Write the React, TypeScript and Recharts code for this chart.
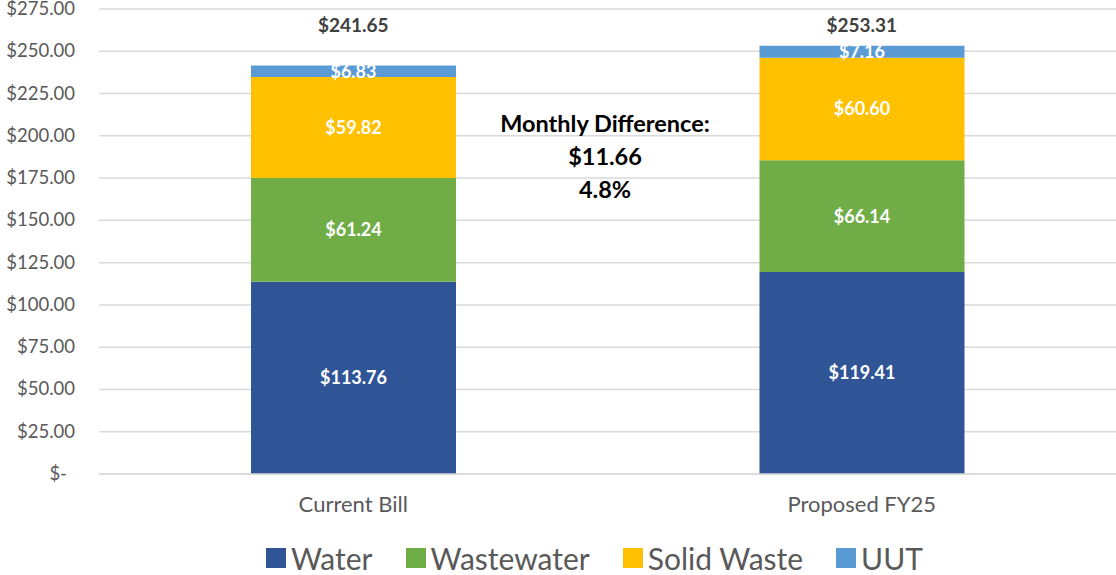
import {
  BarChart, Bar, XAxis, YAxis, CartesianGrid, Legend, LabelList, ReferenceDot,
} from "recharts";

const categories = ["Current Bill", "Proposed FY25"];
const water = [113.76, 119.41];
const wastewater = [61.24, 66.14];
const solidWaste = [59.82, 60.6];
const uut = [6.83, 7.16];
const totals = [241.65, 253.31];
const yTicks = [0, 25, 50, 75, 100, 125, 150, 175, 200, 225, 250, 275];
const totalLabelY = 265.5;

const series = [
  { key: "water", name: "Water", color: "#2F5597" },
  { key: "wastewater", name: "Wastewater", color: "#70AD47" },
  { key: "solidWaste", name: "Solid Waste", color: "#FFC000" },
  { key: "uut", name: "UUT", color: "#5B9BD5" },
];

const data = categories.map((name, i) => ({
  name,
  water: water[i],
  wastewater: wastewater[i],
  solidWaste: solidWaste[i],
  uut: uut[i],
}));

const FONT = "Lato, 'Open Sans', sans-serif";
const money = (v: number) => `$${Number(v).toFixed(2)}`;

function YTick({ x, y, payload }: any) {
  const v = payload.value;
  return (
    <text x={v === 0 ? x - 24 : x - 16} y={y} dy={6} textAnchor="end" fill="#595959" fontSize={18.5} fontFamily={FONT}>
      {v === 0 ? "$-" : money(v)}
    </text>
  );
}

function XTick({ x, y, payload }: any) {
  return (
    <text x={x} y={y} dy={30} textAnchor="middle" fill="#595959" fontSize={22} fontFamily={FONT}>
      {payload.value}
    </text>
  );
}

function LegendContent() {
  return (
    <div style={{ height: 51, display: "flex", alignItems: "center", gap: 33, fontFamily: FONT, fontSize: 30, color: "#595959", paddingTop: 16, paddingLeft: 266, boxSizing: "border-box" }}>
      {series.map((s) => (
        <div key={s.key} style={{ display: "flex", alignItems: "center", gap: 5 }}>
          <span style={{ width: 20, height: 20, background: s.color, display: "inline-block" }} />
          <span>{s.name}</span>
        </div>
      ))}
    </div>
  );
}

export default function App() {
  return (
    <div style={{ position: "absolute", left: 0, top: 0, width: 1116, height: 575, background: "#fff" }}>
      <BarChart width={1116} height={575} data={data} margin={{ top: 9, right: 0, left: 0, bottom: 0 }} barSize={205}>
        <CartesianGrid vertical={false} stroke="#D9D9D9" strokeWidth={1.5} />
        <XAxis dataKey="name" tickLine={false} axisLine={{ stroke: "#D9D9D9", strokeWidth: 1.5 }} height={50} tick={<XTick />} interval={0} />
        <YAxis width={99} domain={[0, 275]} ticks={yTicks} tickLine={false} axisLine={false} tick={<YTick />} interval={0} />
        <Legend verticalAlign="bottom" content={<LegendContent />} />
        {series.map((s) => (
          <Bar key={s.key} dataKey={s.key} name={s.name} stackId="a" fill={s.color} isAnimationActive={false}>
            <LabelList dataKey={s.key} position="center" fill="#fff" fontSize={18} fontWeight="bold" fontFamily={FONT} formatter={(v: any) => money(v)} />
          </Bar>
        ))}
        {categories.map((c, i) => (
          <ReferenceDot key={c} x={c} y={totalLabelY} r={0} stroke="none" fill="none" ifOverflow="visible"
            label={{ value: money(totals[i]), position: "center", fill: "#404040", fontSize: 19, fontWeight: "bold", fontFamily: FONT }} />
        ))}
      </BarChart>
      <div style={{ position: "absolute", left: 455, top: 107, width: 300, textAlign: "center", fontFamily: FONT, fontWeight: "bold", color: "#000", fontSize: 23.5, lineHeight: "33px" }}>
        <div>Monthly Difference:</div>
        <div>$11.66</div>
        <div>4.8%</div>
      </div>
    </div>
  );
}
